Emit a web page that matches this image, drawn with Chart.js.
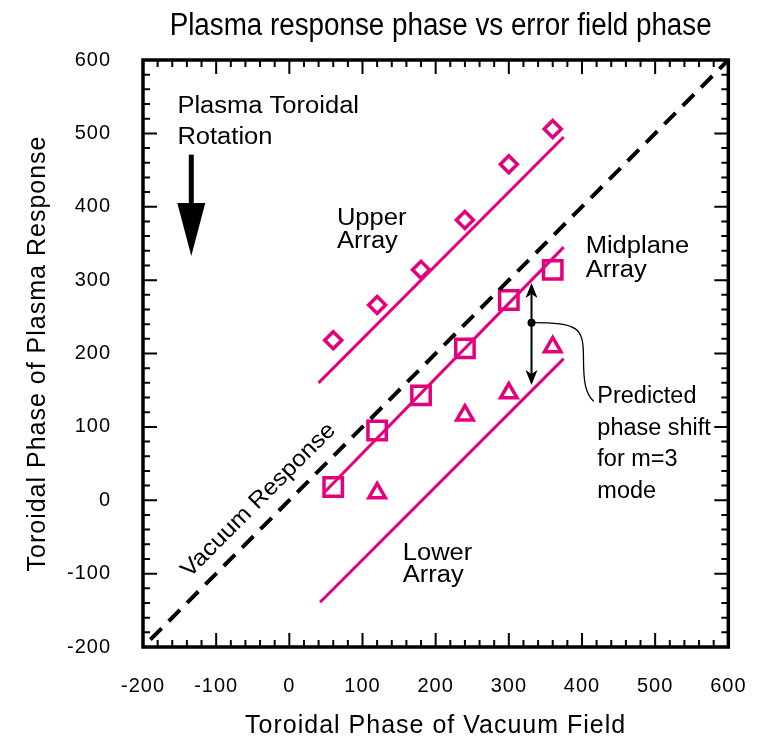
<!DOCTYPE html>
<html>
<head>
<meta charset="utf-8">
<script src="https://cdn.jsdelivr.net/npm/chart.js@4/dist/chart.umd.min.js"></script>
<style>
  html, body { margin: 0; padding: 0; background: #fff; }
  canvas { display: block; }
</style>
</head>
<body>
<canvas id="phase-chart" width="772" height="743"></canvas>
<script>
// Data
var phaseX = [60, 120, 180, 240, 300, 360];
var upperY = [218, 266, 314, 382, 458, 506];
var midplaneY = [18, 95, 143, 207, 273, 314];
var lowerX = [120, 240, 300, 360];
var lowerY = [10, 116, 146, 209];

// Fitted lines (end points)
var upperFitX = [40, 375];
var upperFitY = [160, 495];
var midplaneFitX = [48, 375];
var midplaneFitY = [11, 345];
var lowerFitX = [42, 375];
var lowerFitY = [-139, 193];
var vacuumX = [-190, 600];
var vacuumY = [-190, 600];

var axisTicks = [-200, -100, 0, 100, 200, 300, 400, 500, 600];

var TITLE = 'Plasma response phase vs error field phase';
var MAGENTA = '#e4007c';
var FONT = "'Liberation Sans', Arial, Helvetica, sans-serif";

function toPoints(xs, ys) {
  return xs.map(function(x, i) { return { x: x, y: ys[i] }; });
}

function lineSet(xs, ys, color, width, dash) {
  return {
    data: toPoints(xs, ys),
    showLine: true,
    borderColor: color,
    borderWidth: width,
    borderDash: dash || [],
    pointRadius: 0,
    fill: false
  };
}

function markerSet(xs, ys, style, radius) {
  return {
    data: toPoints(xs, ys),
    showLine: false,
    pointStyle: style,
    pointRadius: radius,
    pointBorderWidth: 3.5,
    pointBorderColor: MAGENTA,
    pointBackgroundColor: 'rgba(255,255,255,0)'
  };
}

// text notes, placed in data units (x = left edge, y = baseline)
var notes = [
  { text: 'Plasma Toroidal', x: -153, y: 528, size: 23, stretch: 1.11 },
  { text: 'Rotation', x: -153, y: 486, size: 23, stretch: 1.11 },
  { text: 'Upper', x: 65, y: 375, size: 23, stretch: 1.11 },
  { text: 'Array', x: 65, y: 344, size: 23, stretch: 1.11 },
  { text: 'Midplane', x: 405, y: 337, size: 23, stretch: 1.11 },
  { text: 'Array', x: 405, y: 304, size: 23, stretch: 1.11 },
  { text: 'Lower', x: 155, y: -81, size: 23, stretch: 1.11 },
  { text: 'Array', x: 155, y: -112, size: 23, stretch: 1.11 },
  { text: 'Predicted', x: 421, y: 133, size: 23, stretch: 1.02 },
  { text: 'phase shift', x: 421, y: 89, size: 23, stretch: 1.02 },
  { text: 'for m=3', x: 421, y: 46, size: 23, stretch: 1.02 },
  { text: 'mode', x: 421, y: 3, size: 23, stretch: 1.02 }
];

// widen the axis lettering a little, like the original
var letterSpacing = {
  id: 'letterSpacing',
  beforeDraw: function(chart) {
    chart.ctx.letterSpacing = '1px';
  }
};

// title, frame with inward ticks, arrows and notes
var decorations = {
  id: 'decorations',
  afterDraw: function(chart) {
    var ctx = chart.ctx;
    var xs = chart.scales.x;
    var ys = chart.scales.y;
    var a = chart.chartArea;
    var px = function(v) { return xs.getPixelForValue(v); };
    var py = function(v) { return ys.getPixelForValue(v); };

    ctx.save();
    ctx.letterSpacing = '0px';
    ctx.strokeStyle = '#000';
    ctx.fillStyle = '#000';

    // narrow title over the plot
    ctx.font = '31px ' + FONT;
    ctx.textAlign = 'center';
    ctx.textBaseline = 'alphabetic';
    ctx.fillText(TITLE, (a.left + a.right) / 2 + 5, 35, 542);

    // ticks
    ctx.lineWidth = 2;
    for (var v = -200; v <= 600; v += 20) {
      var len = (v % 100 === 0) ? 14 : 7;
      var tx = px(v), ty = py(v);
      ctx.beginPath();
      ctx.moveTo(tx, a.bottom); ctx.lineTo(tx, a.bottom - len);
      ctx.moveTo(tx, a.top); ctx.lineTo(tx, a.top + len);
      ctx.moveTo(a.left, ty); ctx.lineTo(a.left + len, ty);
      ctx.moveTo(a.right, ty); ctx.lineTo(a.right - len, ty);
      ctx.stroke();
    }
    // frame
    ctx.lineWidth = 3.5;
    ctx.strokeRect(a.left, a.top, a.right - a.left, a.bottom - a.top);

    // notes
    ctx.textAlign = 'left';
    notes.forEach(function(n) {
      ctx.save();
      ctx.font = n.size + 'px ' + FONT;
      ctx.translate(px(n.x), py(n.y));
      ctx.scale(n.stretch, 1);
      ctx.fillText(n.text, 0, 0);
      ctx.restore();
    });

    // rotated label along the vacuum line
    ctx.save();
    ctx.font = '23px ' + FONT;
    ctx.translate(px(-42), py(0));
    ctx.rotate(-Math.PI / 4);
    ctx.scale(1.08, 1);
    ctx.textAlign = 'center';
    ctx.textBaseline = 'middle';
    ctx.fillText('Vacuum Response', 0, 0);
    ctx.restore();

    // rotation arrow
    var ax = px(-134);
    ctx.fillRect(ax - 2.5, py(471), 5, py(405) - py(471) + 1);
    ctx.beginPath();
    ctx.moveTo(ax - 14, py(405));
    ctx.lineTo(ax + 14, py(405));
    ctx.lineTo(ax, py(333));
    ctx.closePath();
    ctx.fill();

    // predicted phase shift double arrow
    var dx = px(331), top = py(296), bot = py(157), dotY = py(242);
    ctx.lineWidth = 2;
    ctx.beginPath();
    ctx.moveTo(dx, top + 10); ctx.lineTo(dx, bot - 10);
    ctx.stroke();
    ctx.beginPath();
    ctx.moveTo(dx, top); ctx.lineTo(dx - 6, top + 15); ctx.lineTo(dx, top + 11); ctx.lineTo(dx + 6, top + 15);
    ctx.closePath(); ctx.fill();
    ctx.beginPath();
    ctx.moveTo(dx, bot); ctx.lineTo(dx - 6, bot - 15); ctx.lineTo(dx, bot - 11); ctx.lineTo(dx + 6, bot - 15);
    ctx.closePath(); ctx.fill();
    ctx.beginPath();
    ctx.arc(dx, dotY, 4, 0, Math.PI * 2);
    ctx.fill();

    // leader curve to the label
    ctx.lineWidth = 1.3;
    ctx.beginPath();
    ctx.moveTo(dx, dotY);
    ctx.bezierCurveTo(px(395), dotY, px(402), py(236), px(402), py(195));
    ctx.bezierCurveTo(px(402), py(160), px(405), py(145), px(416), py(135));
    ctx.stroke();

    ctx.restore();
  }
};

var chartCtx = document.getElementById('phase-chart').getContext('2d');
var phaseChart = new Chart(chartCtx, {
  type: 'scatter',
  data: {
    datasets: [
      lineSet(vacuumX, vacuumY, '#000', 4, [16, 10]),
      lineSet(upperFitX, upperFitY, MAGENTA, 3),
      lineSet(midplaneFitX, midplaneFitY, MAGENTA, 3),
      lineSet(lowerFitX, lowerFitY, MAGENTA, 3),
      markerSet(phaseX, upperY, 'rectRot', 8.5),
      markerSet(phaseX, midplaneY, 'rect', 13),
      markerSet(lowerX, lowerY, 'triangle', 9.5)
    ]
  },
  options: {
    responsive: false,
    animation: false,
    devicePixelRatio: 1,
    layout: {
      padding: { left: 0, right: 43, top: 60, bottom: 0 }
    },
    scales: {
      x: {
        type: 'linear',
        min: -200,
        max: 600,
        afterBuildTicks: function(scale) {
          scale.ticks = axisTicks.map(function(v) { return { value: v }; });
        },
        afterFit: function(scale) { scale.height = 96; },
        grid: { display: false, drawTicks: false },
        border: { display: false },
        ticks: {
          color: '#000',
          padding: 27,
          maxRotation: 0,
          font: { family: FONT, size: 20 }
        },
        title: {
          display: true,
          text: 'Toroidal Phase of Vacuum Field',
          color: '#000',
          font: { family: FONT, size: 25 },
          padding: { top: 0, bottom: 2 }
        }
      },
      y: {
        type: 'linear',
        min: -200,
        max: 600,
        afterBuildTicks: function(scale) {
          scale.ticks = axisTicks.map(function(v) { return { value: v }; });
        },
        afterFit: function(scale) { scale.width = 143; },
        grid: { display: false, drawTicks: false },
        border: { display: false },
        ticks: {
          color: '#000',
          padding: 32,
          font: { family: FONT, size: 20 }
        },
        title: {
          display: true,
          text: 'Toroidal Phase of Plasma Response',
          color: '#000',
          font: { family: FONT, size: 25 },
          padding: { top: 23, bottom: 0 }
        }
      }
    },
    plugins: {
      legend: { display: false },
      tooltip: { enabled: false },
      title: { display: false }
    }
  },
  plugins: [letterSpacing, decorations]
});
</script>
</body>
</html>
